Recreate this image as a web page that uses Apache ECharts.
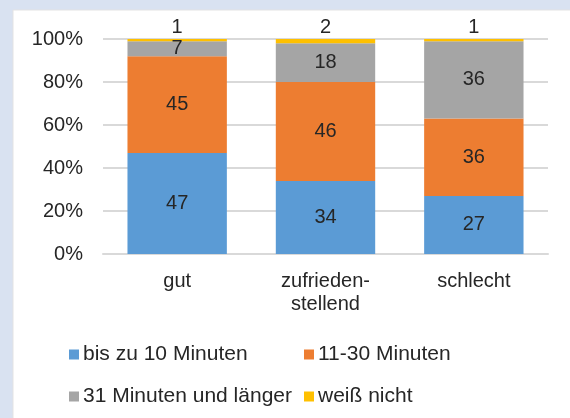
<!DOCTYPE html>
<html>
<head>
<meta charset="utf-8">
<script src="https://cdn.jsdelivr.net/npm/echarts@6/dist/echarts.min.js"></script>
<style>
  html, body { margin: 0; padding: 0; background: #d9e2f1; }
  #chart { width: 570px; height: 418px; }
</style>
</head>
<body>
<div id="chart"></div>
<script>
// Kategorien (Bewertung) und Anteile in Prozent je Antwort
const categories = ['gut', 'zufrieden-\nstellend', 'schlecht'];
const bis10 = [47, 34, 27];
const min11bis30 = [45, 46, 36];
const ab31 = [7, 18, 36];
const weissNicht = [1, 2, 1];
const seriesNames = ['bis zu 10 Minuten', '11-30 Minuten', '31 Minuten und länger', 'weiß nicht'];
const colors = ['#5b9bd5', '#ed7d31', '#a5a5a5', '#ffc000'];

const font = '"Liberation Sans", Arial, sans-serif';
const textColor = '#262626';

function bar(name, data, color, labelPos) {
  return {
    name: name,
    type: 'bar',
    stack: 'total',
    data: data,
    barWidth: '67%',
    itemStyle: { color: color },
    label: {
      show: true,
      position: labelPos,
      distance: 2,
      color: textColor,
      fontFamily: font,
      fontSize: 20
    }
  };
}

function legendAt(idx, left, top) {
  return {
    data: [seriesNames[idx]],
    left: left,
    top: top,
    itemWidth: 10,
    itemHeight: 10,
    itemGap: 5,
    padding: 0,
    icon: 'rect',
    textStyle: { color: textColor, fontFamily: font, fontSize: 21, padding: [0, 0, 0, -1] },
    selectedMode: false
  };
}

const chart = echarts.init(document.getElementById('chart'));
chart.setOption({
  animation: false,
  backgroundColor: '#d9e2f1',
  graphic: [{
    type: 'rect',
    z: -10,
    shape: { x: 13, y: 10, width: 570, height: 420 },
    style: { fill: '#ffffff', stroke: '#e3e3e3', lineWidth: 1 }
  }],
  grid: { left: 103, right: 22, top: 39, height: 215 },
  legend: [
    legendAt(0, 69, 344),
    legendAt(1, 304, 344),
    legendAt(2, 69, 386),
    legendAt(3, 304, 386)
  ],
  xAxis: {
    type: 'category',
    data: categories,
    axisTick: { show: false },
    axisLine: { lineStyle: { color: '#d9d9d9', width: 2 } },
    axisLabel: {
      color: textColor,
      fontFamily: font,
      fontSize: 20,
      margin: 16,
      lineHeight: 23
    }
  },
  yAxis: {
    type: 'value',
    min: 0,
    max: 100,
    interval: 20,
    axisLine: { show: false },
    axisTick: { show: false },
    splitLine: { lineStyle: { color: '#d9d9d9', width: 2 } },
    axisLabel: {
      formatter: '{value}%',
      color: textColor,
      fontFamily: font,
      fontSize: 20,
      margin: 20
    }
  },
  series: [
    bar(seriesNames[0], bis10, colors[0], 'inside'),
    bar(seriesNames[1], min11bis30, colors[1], 'inside'),
    bar(seriesNames[2], ab31, colors[2], 'inside'),
    bar(seriesNames[3], weissNicht, colors[3], 'top')
  ]
});
</script>
</body>
</html>
